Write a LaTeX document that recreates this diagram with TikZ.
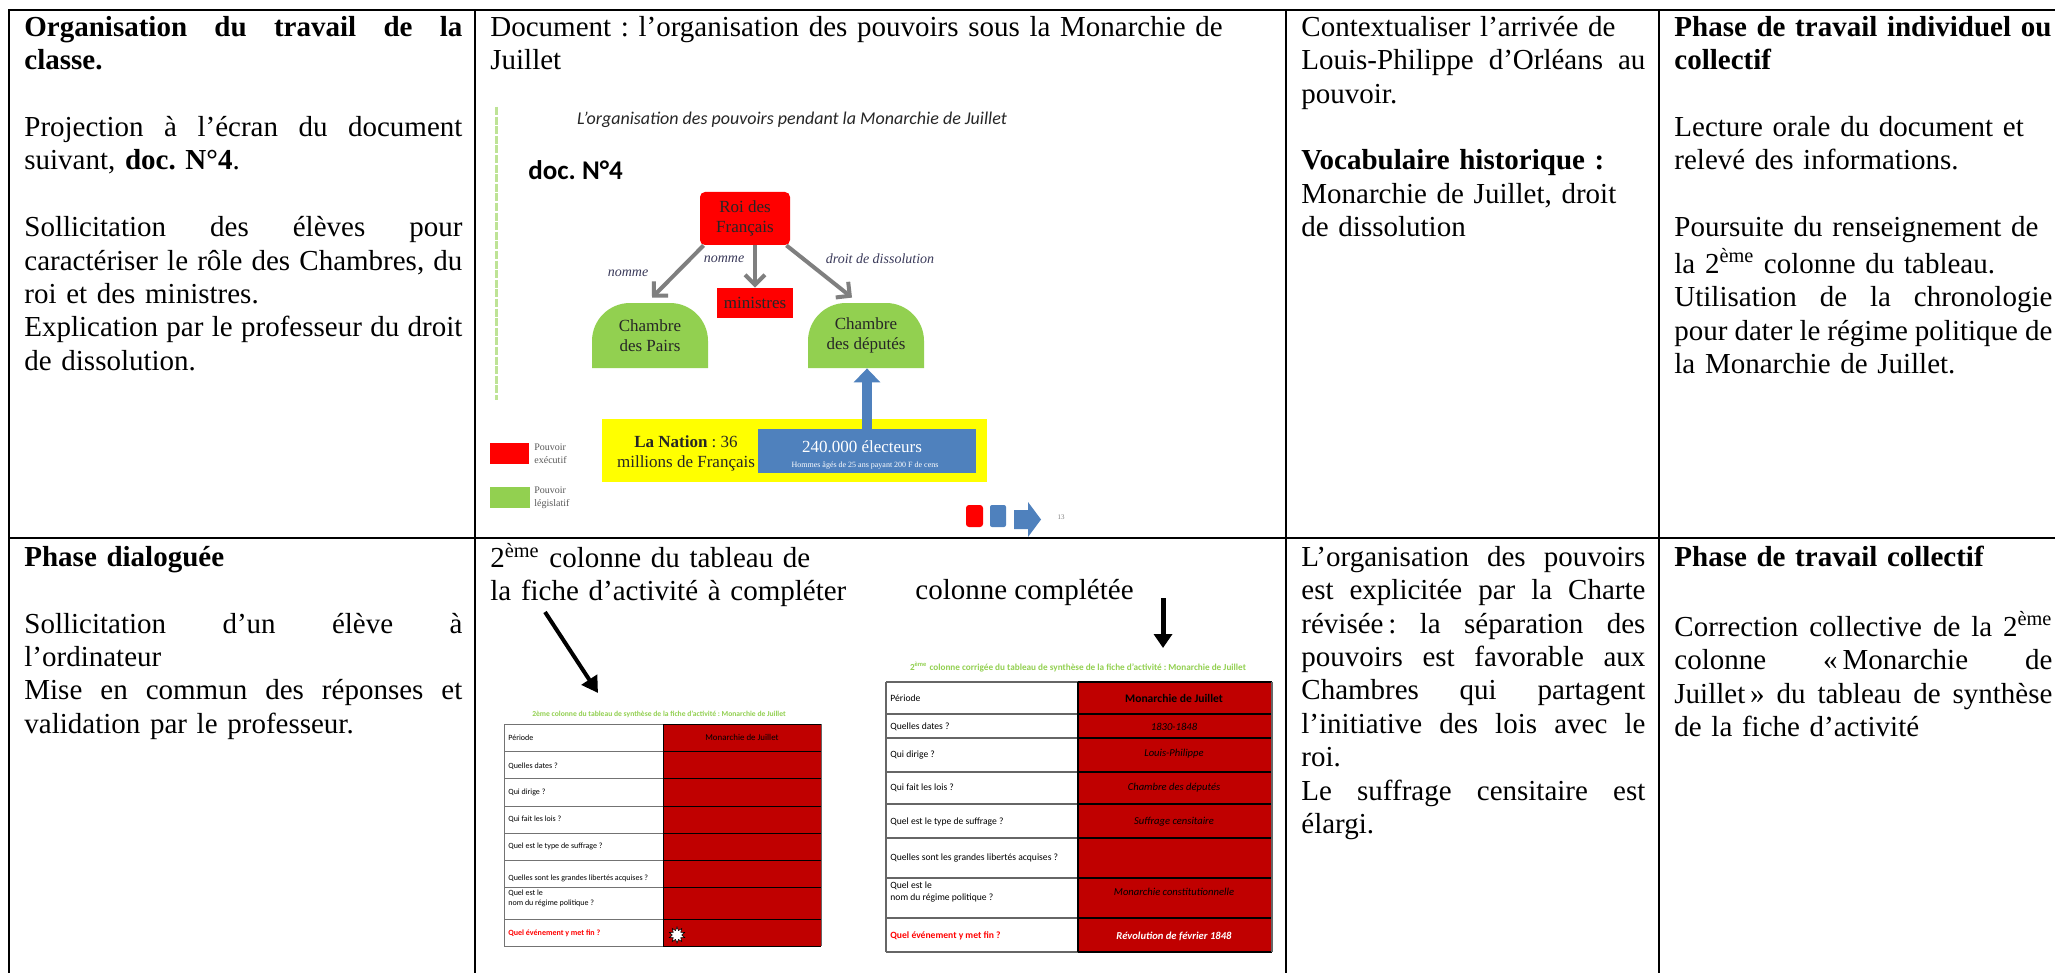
\documentclass[tikz,border=0pt]{standalone}
\usepackage{fontspec}
\setmainfont{Liberation Serif}
\newfontfamily\calfont{Carlito}
\usetikzlibrary{arrows.meta,shapes.geometric,calc}
\definecolor{slred}{HTML}{FF0000}
\definecolor{slgreen}{HTML}{92D050}
\definecolor{slblue}{HTML}{4F81BD}
\definecolor{slyellow}{HTML}{FFFF00}
\definecolor{tabred}{HTML}{C00000}
\definecolor{arrgray}{HTML}{7F7F7F}
\definecolor{lbltext}{HTML}{3A3A5A}
\definecolor{hdrgreen}{HTML}{92D050}
\newcommand\Jx[2]{\hbox to #1{\spaceskip=0.25em plus 3em minus 0.05em\relax\strut#2}\par}
\newcommand\JA[1]{\Jx{219pt}{#1}}
\newcommand\JC[1]{\Jx{172pt}{#1}}
\newcommand\JD[1]{\Jx{189pt}{#1}}
\newcommand\Ll[1]{\strut#1\par}
\newcommand\Bl{\strut\par}
\tikzset{
  cell/.style={anchor=north west, inner sep=0pt, font=\fontsize{14.5}{16.7}\selectfont},
  grid/.style={line width=1.3pt, line cap=rect},
  graya/.style={draw=arrgray, line width=2pt, -{Straight Barb[length=5pt,width=10pt]}},
  lbl/.style={font=\itshape\fontsize{7}{9}\selectfont, text=lbltext, inner sep=0pt},
  slbox/.style={inner sep=0pt, font=\fontsize{8.5}{10}\selectfont, align=center, text=black!85},
  blacka/.style={line width=2pt, -{Triangle[length=8pt,width=9pt]}},
  legtxt/.style={anchor=west, inner sep=0pt, align=left, font=\fontsize{5}{6.5}\selectfont, text=black!65},
  tlL/.style={anchor=west, inner sep=0pt, align=left, font=\calfont\fontsize{4}{5}\selectfont},
  tlR/.style={anchor=west, inner sep=0pt, align=left, font=\calfont\fontsize{4.8}{6}\selectfont},
  tvR/.style={inner sep=0pt, font=\calfont\itshape\fontsize{5.3}{6}\selectfont, text=black},
  hdr/.style={inner sep=0pt, font=\calfont\bfseries, text=hdrgreen},
}
\begin{document}
\lineskiplimit=-50pt
\frenchspacing
\begin{tikzpicture}[x=0.5pt,y=-0.5pt]
\useasboundingbox (0,0) rectangle (2055,973);
\fill[white] (0,0) rectangle (2055,973);
\clip (0,0) rectangle (2055,973);

% ---------- grid ----------
\draw[grid] (9,10) -- (2070,10);
\draw[grid] (9,538) -- (2070,538);
\draw[grid] (9,10) -- (9,990);
\draw[grid] (475,10) -- (475,990);
\draw[grid] (1286,10) -- (1286,990);
\draw[grid] (1659,10) -- (1659,990);

% ---------- row 1 texts ----------
\node[cell, text width=219pt] (c11) at (24,12.6) {%
\JA{\textbf{Organisation du travail de la}}%
\Ll{\textbf{classe.}}%
\Bl
\JA{Projection à l’écran du document}%
\Ll{suivant, \textbf{doc. N°4}.}%
\Bl
\JA{Sollicitation des élèves pour}%
\JA{caractériser le rôle des Chambres, du}%
\Ll{roi et des ministres.}%
\JA{Explication par le professeur du droit}%
\Ll{de dissolution.}};

\node[cell, text width=395pt] (c12) at (490,12.6) {%
\Ll{Document : l’organisation des pouvoirs sous la Monarchie de}%
\Ll{Juillet}};

\node[cell, text width=172pt] (c13) at (1301,12.6) {%
\Ll{Contextualiser l’arrivée de}%
\JC{Louis-Philippe d’Orléans au}%
\Ll{pouvoir.}%
\Bl
\Ll{\textbf{Vocabulaire historique :}}%
\Ll{Monarchie de Juillet, droit}%
\Ll{de dissolution}};

\node[cell, text width=189pt] (c14) at (1674,12.6) {%
\Ll{\textbf{Phase de travail individuel ou}}%
\Ll{\textbf{collectif}}%
\Bl
\Ll{Lecture orale du document et}%
\Ll{relevé des informations.}%
\Bl
\Ll{Poursuite du renseignement de}%
\Ll{la 2\textsuperscript{ème} colonne du tableau.}%
\JD{Utilisation de la chronologie}%
\JD{pour dater le régime politique de}%
\Ll{la Monarchie de Juillet.}};

% ---------- slide (doc. N°4) ----------
\draw[slgreen!60, line width=1.5pt, dash pattern=on 4pt off 0.8pt] (496,107) -- (496,400);
\node[inner sep=0pt, font=\calfont\itshape\fontsize{9}{10}\selectfont, text=black!85] (title) at (792,120) {L’organisation des pouvoirs pendant la Monarchie de Juillet};
\node[anchor=base west, inner sep=0pt, font=\calfont\bfseries\fontsize{13.5}{16}\selectfont] (docn) at (528,180) {doc. N°4};

\node[slbox, fill=slred, rounded corners=2.5pt, minimum width=45pt, minimum height=26.5pt] (roi) at (745,218.5) {Roi des\\Français};
\node[slbox, fill=slred, minimum width=38pt, minimum height=15pt] (mini) at (755,303) {ministres};

\fill[slgreen] (592,368) -- (592,341) .. controls (592,320) and (609,303) .. (630,303) -- (670,303) .. controls (691,303) and (708,320) .. (708,341) -- (708,368) -- cycle;
\fill[slgreen] (808,368) -- (808,341) .. controls (808,320) and (825,303) .. (846,303) -- (886,303) .. controls (907,303) and (924,320) .. (924,341) -- (924,368) -- cycle;
\node[slbox, minimum width=58pt, minimum height=32.5pt] (pairs) at (650,335.5) {Chambre\\des Pairs};
\node[slbox, minimum width=58pt, minimum height=32.5pt] (dep) at (866,335.5) {Chambre\\des députés};

\draw[graya] ([xshift=2pt]roi.south west) -- ([xshift=1pt,yshift=2.5pt]pairs.north);
\draw[graya] (roi.south -| mini.north) -- (mini.north);
\draw[graya] ([xshift=-2pt]roi.south east) -- ([xshift=-7pt,yshift=2.5pt]dep.north);
\node[lbl] (lb1) at (628,273) {nomme};
\node[lbl] (lb2) at (724,259) {nomme};
\node[lbl] (lb3) at (880,259) {droit de dissolution};

\node[fill=slyellow, inner sep=0pt, minimum width=192.5pt, minimum height=31.5pt] (nation) at (794.5,450.5) {};
\node[fill=slblue, inner sep=0pt, minimum width=109pt, minimum height=22pt] (elect) at (867,451) {};
\node[slbox] (nattxt) at (686,453) {\textbf{La Nation} : 36\\millions de Français};
\node[slbox, text=white] (elcttxt) at (862,447) {240.000 électeurs};
\node[inner sep=0pt, font=\fontsize{4}{5}\selectfont, text=white] (elsub) at (865,466) {Hommes âgés de 25 ans payant 200 F de cens};
\draw[slblue, line width=5pt, -{Triangle[length=7pt,width=13pt]}] (elect.north) -- (elect.north |- dep.south);

\node[fill=slred, inner sep=0pt, minimum width=19.5pt, minimum height=10.5pt] (legr) at (509.5,453.5) {};
\node[legtxt] (legrt) at (534,453.5) {Pouvoir\\exécutif};
\node[fill=slgreen, inner sep=0pt, minimum width=20pt, minimum height=10.5pt] (legg) at (510,497.5) {};
\node[legtxt] (leggt) at (534,497.5) {Pouvoir\\législatif};

\node[fill=slred, rounded corners=1.5pt, inner sep=0pt, minimum width=8.5pt, minimum height=11pt] (nav1) at (974.5,516) {};
\node[fill=slblue, rounded corners=1pt, inner sep=0pt, minimum width=8pt, minimum height=11pt] (nav2) at (998,516) {};
\fill[slblue] (1014,510) -- (1028,510) -- (1028,502) -- (1041,519.5) -- (1028,537) -- (1028,529) -- (1014,529) -- cycle;
\node[inner sep=0pt, font=\fontsize{3.5}{4}\selectfont, text=black!50] (pgno) at (1061,517) {13};

% ---------- row 2 texts ----------
\node[cell, text width=219pt] (c21) at (24,542.6) {%
\Ll{\textbf{Phase dialoguée}}%
\Bl
\JA{Sollicitation d’un élève à}%
\Ll{l’ordinateur}%
\JA{Mise en commun des réponses et}%
\Ll{validation par le professeur.}};

\node[cell, text width=395pt] (c22) at (490,542.6) {%
\Ll{2\textsuperscript{ème} colonne du tableau de}%
\Ll{la fiche d’activité à compléter}};
\node[anchor=base west, inner sep=0pt, font=\fontsize{14.5}{16.7}\selectfont] (cc) at (915,599.4) {colonne complétée};

\node[cell, text width=172pt] (c23) at (1301,542.6) {%
\JC{L’organisation des pouvoirs}%
\JC{est explicitée par la Charte}%
\JC{révisée\,: la séparation des}%
\JC{pouvoirs est favorable aux}%
\JC{Chambres qui partagent}%
\JC{l’initiative des lois avec le}%
\Ll{roi.}%
\JC{Le suffrage censitaire est}%
\Ll{élargi.}};

\node[cell, text width=189pt] (c24) at (1674,542.6) {%
\Ll{\textbf{Phase de travail collectif}}%
\Bl
\JD{Correction collective de la 2\textsuperscript{ème}}%
\JD{colonne «\,Monarchie de}%
\JD{Juillet\,» du tableau de synthèse}%
\Ll{de la fiche d’activité}};

% ---------- arrows row 2 ----------
\coordinate (a1s) at (545,612);
\coordinate (a1e) at (598,693);
\draw[blacka] (a1s) -- (a1e);
\coordinate (a2s) at (1163,598);
\coordinate (a2e) at (1163,648);
\draw[line width=2.5pt, -{Triangle[length=7pt,width=9pt]}] (a2s) -- (a2e);

% ---------- left small table ----------
\node[hdr, font=\calfont\bfseries\fontsize{3.8}{4.5}\selectfont] (hdrL) at (659,714) {2ème colonne du tableau de synthèse de la fiche d’activité : Monarchie de Juillet};
\fill[tabred] (663,724) rectangle (821,946);
\foreach \yy in {724,751,778,806,833,860,887,919,946} {
  \draw[black!55, line width=0.5pt] (504,\yy) -- (663,\yy);
  \draw[black, line width=0.5pt] (663,\yy) -- (821,\yy);
}
\draw[black!55, line width=0.5pt] (504,724) -- (504,946);
\draw[black, line width=0.5pt] (663,724) -- (663,946);
\draw[black!60, line width=0.5pt] (821,724) -- (821,946);
\node[tlL] (L1) at (508,738) {Période};
\node[tlL] (L2) at (508,766) {Quelles dates ?};
\node[tlL] (L3) at (508,792) {Qui dirige ?};
\node[tlL] (L4) at (508,819) {Qui fait les lois ?};
\node[tlL] (L5) at (508,846) {Quel est le type de suffrage ?};
\node[tlL] (L6) at (508,878) {Quelles sont les grandes libertés acquises ?};
\node[tlL] (L7) at (508,898) {Quel est le\\nom du régime politique ?};
\node[tlL, text=slred, font=\calfont\bfseries\fontsize{4}{5}\selectfont] (L8) at (508,933) {Quel événement y met fin ?};
\node[inner sep=0pt, font=\calfont\fontsize{4.45}{5}\selectfont] (LR1) at (742,737) {Monarchie de Juillet};
\node[star, star points=10, star point ratio=1.7, fill=white, draw=black, line width=0.3pt, minimum size=8pt, inner sep=0pt] (boom) at (677,935) {};

% ---------- right small table ----------
\node[hdr, font=\calfont\bfseries\fontsize{4.6}{5.5}\selectfont] (hdrR) at (1078,667) {2\textsuperscript{ème} colonne corrigée du tableau de synthèse de la fiche d’activité : Monarchie de Juillet};
\fill[tabred] (1078,682) rectangle (1272,952);
\foreach \yy in {682,714,738,772,804,838,878,918,952} {
  \draw[black!60, line width=0.6pt] (886,\yy) -- (1078,\yy);
  \draw[black, line width=0.6pt] (1078,\yy) -- (1272,\yy);
}
\draw[black!60, line width=0.6pt] (886,682) -- (886,952);
\draw[black, line width=0.6pt] (1078,682) -- (1078,952);
\draw[black!60, line width=0.6pt] (1272,682) -- (1272,952);
\node[tlR] (R1) at (890,698) {Période};
\node[tlR] (R2) at (890,727) {Quelles dates ?};
\node[tlR] (R3) at (890,755) {Qui dirige ?};
\node[tlR] (R4) at (890,788) {Qui fait les lois ?};
\node[tlR] (R5) at (890,822) {Quel est le type de suffrage ?};
\node[tlR] (R6) at (890,858) {Quelles sont les grandes libertés acquises ?};
\node[tlR] (R7) at (890,892) {Quel est le\\nom du régime politique ?};
\node[tlR, text=slred, font=\calfont\bfseries\fontsize{4.8}{6}\selectfont] (R8) at (890,936) {Quel événement y met fin ?};
\node[inner sep=0pt, font=\calfont\bfseries\fontsize{5.8}{7}\selectfont] (V1) at (1174,698) {Monarchie de Juillet};
\node[tvR] (V2) at (1174,727) {1830-1848};
\node[tvR] (V3) at (1174,754) {Louis-Philippe};
\node[tvR] (V4) at (1174,788) {Chambre des députés};
\node[tvR] (V5) at (1174,822) {Suffrage censitaire};
\node[tvR] (V7) at (1174,892) {Monarchie constitutionnelle};
\node[tvR, text=white, font=\calfont\bfseries\itshape\fontsize{5.3}{6}\selectfont] (V8) at (1174,936) {Révolution de février 1848};
\end{tikzpicture}
\end{document}
